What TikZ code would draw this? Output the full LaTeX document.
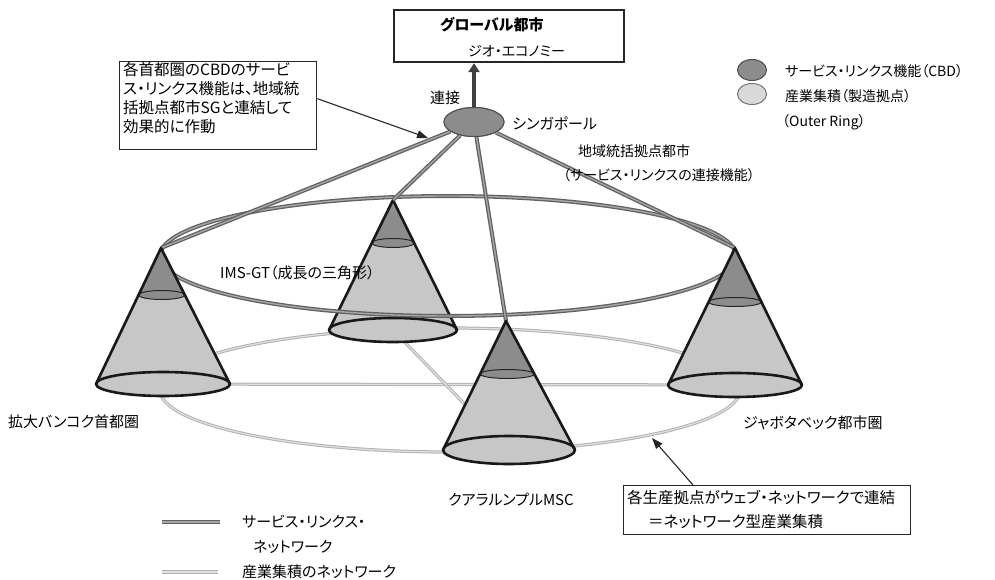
\documentclass[tikz,border=0pt]{standalone}
\usepackage{fontspec}
\setmainfont[RawFeature=+palt]{Noto Sans CJK JP}
\usetikzlibrary{shapes.geometric,arrows.meta,calc}
\newcommand{\sz}[1]{\fontsize{#1}{#1}\selectfont}
\tikzset{
  svc/.style={draw=black!62, double=black!35, double distance=1.4pt, line width=1.3pt},
  ind/.style={draw=black!30, double=black!12, double distance=1.2pt, line width=1pt},
  lbl/.style={anchor=west, inner sep=0pt, font=\sz{15}},
  conelight/.style={fill=black!22},
  conedark/.style={fill=black!45},
  conerim/.style={draw=black!90, line width=2.6pt, line join=round},
  innerrim/.style={draw=black!85, line width=1pt},
  callarrow/.style={draw=black!85, line width=1.1pt, -{Triangle[length=11pt,width=8pt]}},
  bigarrow/.style={draw=black!75, line width=4pt, -{Triangle[length=9pt,width=11pt]}},
}
% #1 name, #2 ax, #3 ay, #4 bx, #5 by, #6 rx, #7 ry, #8 iy
\newcommand{\drawcone}[8]{%
  \pgfmathsetmacro{\cw}{#6*(#8-#3)/(#5-#3)}%
  \pgfmathsetmacro{\ccx}{#2+(#4-#2)*(#8-#3)/(#5-#3)}%
  \fill[conelight] (#2,#3) -- ({#4-#6},#5) arc[start angle=180,end angle=0,x radius=#6,y radius=#7] -- cycle;
  \fill[conedark] (#2,#3) -- ({\ccx-\cw},#8) arc[start angle=180,end angle=0,x radius=\cw,y radius=4.5] -- cycle;
  \draw[innerrim] (\ccx,#8) ellipse[x radius=\cw, y radius=4.5];
  \draw[conerim] (#4,#5) ellipse[x radius=#6, y radius=#7];
  \draw[conerim] ({#4-#6},#5) -- (#2,#3) -- ({#4+#6},#5);
}
\begin{document}
\begin{tikzpicture}[x=1pt,y=-1pt]
\useasboundingbox (0,0) rectangle (995,580);
% apex and base coordinates
\coordinate (bkk-apex) at (161,248);  \coordinate (bkk-base) at (163,384);
\coordinate (ims-apex) at (393,200);  \coordinate (ims-base) at (393,330);
\coordinate (kl-apex)  at (506,321);  \coordinate (kl-base)  at (509,450);
\coordinate (jab-apex) at (735,248);  \coordinate (jab-base) at (735,385);
% industrial network (behind cones)
\draw[ind] (450,390) ellipse[x radius=290, y radius=62];
\draw[ind] (bkk-base) -- (jab-base);
\draw[ind] (ims-base) -- (kl-base);
% IMS cone (behind service ring)
\drawcone{ims}{393}{200}{393}{330}{64}{12}{243}
% service ring and links
\draw[svc] (448,256) ellipse[x radius=288, y radius=60];
\node[ellipse, draw=black!70, fill=black!45, line width=1pt, minimum width=60pt, minimum height=29pt, inner sep=0pt] (sg) at (474,122) {};
\draw[svc] (sg) -- (bkk-apex);
\draw[svc] (sg) -- (ims-apex);
\draw[svc] (sg) -- (kl-apex);
\draw[svc] (sg) -- (jab-apex);
\node[ellipse, draw=black!70, fill=black!45, line width=1pt, minimum width=60pt, minimum height=29pt, inner sep=0pt] at (sg) {};
% front cones
\drawcone{bkk}{161}{248}{163}{384}{67}{12}{295}
\drawcone{jab}{735}{248}{735}{385}{67}{12}{302}
\drawcone{kl}{506}{321}{509}{450}{66}{14}{374}
% top box
\node[draw=black!85, line width=2.2pt, minimum width=230pt, minimum height=52pt, anchor=north west, inner sep=0pt] (global) at (393,9) {};
\node[lbl, font=\sz{15}\bfseries] (g1) at (440,25) {グローバル都市};
\node[lbl, font=\sz{14}] (g2) at (468,51) {ジオ・エコノミー};
\draw[bigarrow] (sg.north) -- (sg.north |- global.south);
\node[lbl] (renset) at (430,98) {連接};
\node[lbl] (sgl) at (512,123) {シンガポール};
\node[lbl, font=\sz{14}] (hub1) at (578,151) {地域統括拠点都市};
\node[lbl, font=\sz{14}] (hub2) at (563,175) {（サービス・リンクスの連接機能）};
% legend top right
\node[ellipse, draw=black!70, fill=black!45, line width=1pt, minimum width=29pt, minimum height=21pt, inner sep=0pt] (lg1) at (752,70) {};
\node[ellipse, draw=black!55, fill=black!15, line width=1pt, minimum width=29pt, minimum height=21pt, inner sep=0pt] (lg2) at (752,94) {};
\node[lbl, font=\sz{14}] (lg1t) at (785,71) {サービス・リンクス機能（CBD）};
\node[lbl, font=\sz{14}] (lg2t) at (785,96) {産業集積（製造拠点）};
\node[lbl, font=\sz{14}] (lg3t) at (782,122) {（Outer Ring）};
% callout 1
\node[draw=black!85, line width=1.3pt, minimum width=197pt, minimum height=88pt, anchor=north west, inner sep=0pt] (box1) at (119,61) {};
\node[anchor=north west, inner sep=0pt, align=left, font=\fontsize{15.5}{19}\selectfont] (box1t) at (123,62) {各首都圏のCBDのサービ\\ス・リンクス機能は、地域統\\括拠点都市SGと連結して\\効果的に作動};
\coordinate (c1) at (428,138);
\draw[callarrow] ([yshift=7pt]box1.east) -- (c1);
% callout 2
\node[draw=black!85, line width=1.1pt, minimum width=287pt, minimum height=49pt, anchor=north west, inner sep=0pt] (box2) at (623,485) {};
\node[lbl, font=\sz{15.5}] (box2a) at (627,498) {各生産拠点がウェブ・ネットワークで連結};
\node[lbl, font=\sz{15.5}] (box2b) at (648,522) {＝ネットワーク型産業集積};
\coordinate (c2) at (652,438);
\draw[callarrow] ([xshift=70pt]box2.north west) -- (c2);
% city labels
\node[lbl] (imsl) at (220,273) {IMS-GT（成長の三角形）};
\node[lbl] (bkkl) at (8,422) {拡大バンコク首都圏};
\node[lbl] (jabl) at (743,423) {ジャボタベック都市圏};
\node[lbl] (kll) at (448,500) {クアラルンプルMSC};
% bottom legend
\draw[svc] (162,522) -- (220,522);
\draw[ind] (162,572) -- (218,572);
\node[lbl] (lb1) at (242,522) {サービス・リンクス・};
\node[lbl] (lb2) at (253,547) {ネットワーク};
\node[lbl] (lb3) at (242,572) {産業集積のネットワーク};
\end{tikzpicture}
\end{document}
